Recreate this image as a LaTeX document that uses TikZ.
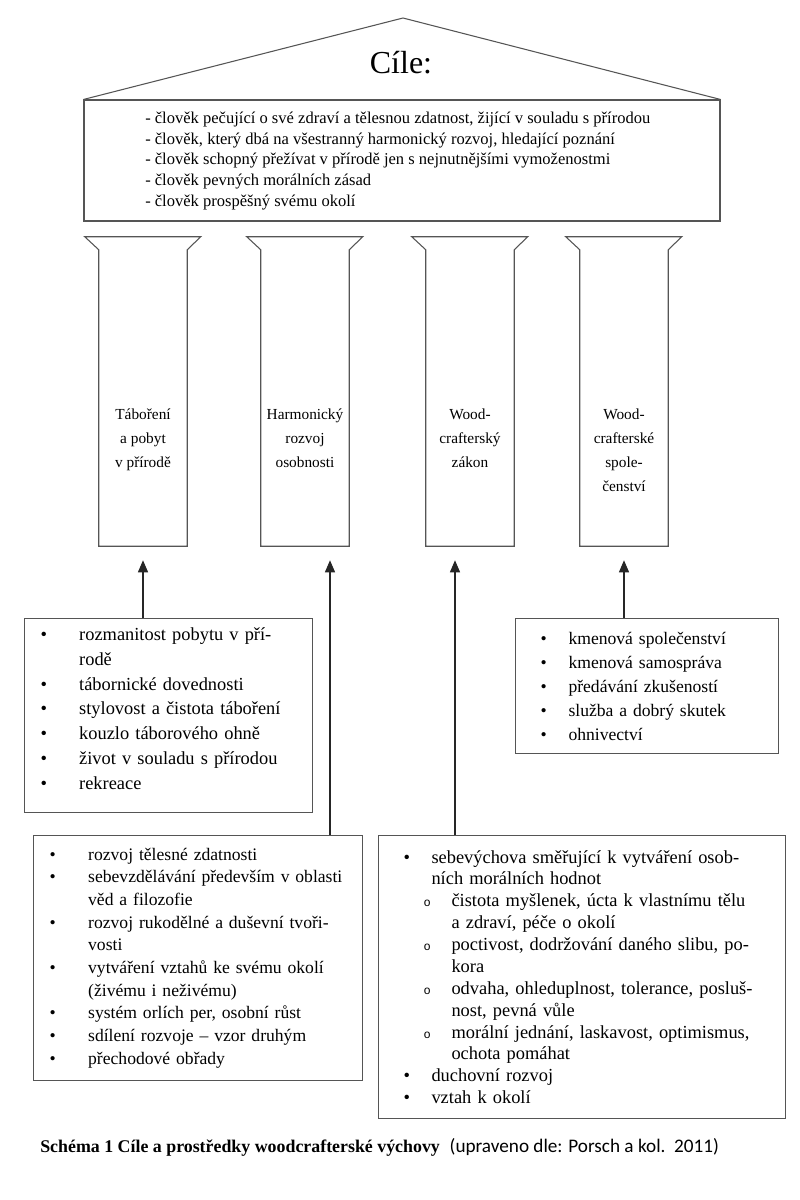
\documentclass[tikz,border=0pt]{standalone}
\usepackage{fontspec}
\setmainfont{Liberation Serif}
\newfontfamily\capfont{Carlito}
\newfontfamily\subfont{Liberation Mono}
\usetikzlibrary{arrows.meta,positioning,calc}
\definecolor{linegray}{HTML}{555555}

% bullet list helpers
\newlength\bpad
\newlength\bgap
\newcommand{\itm}[1]{\hspace*{\bpad}\makebox[\bgap][l]{\textbullet}#1}
\newcommand{\cnt}[1]{\hspace*{\dimexpr\bpad+\bgap\relax}#1}
\newcommand{\sitm}[1]{\hspace*{\dimexpr\bpad+15pt\relax}\makebox[21pt][l]{\subfont\small o}#1}
\newcommand{\scnt}[1]{\hspace*{\dimexpr\bpad+36pt\relax}#1}

\begin{document}
\begin{tikzpicture}[
  x=0.75pt, y=-0.75pt,
  line/.style={draw=linegray, line width=0.8pt},
  pillar/.style={minimum width=66pt, minimum height=222pt, inner sep=0pt},
  plabel/.style={align=center, inner sep=0pt, font=\fontsize{11.5}{18}\selectfont,
    execute at begin node=\rule{0pt}{12pt}},
  listbox/.style={line, anchor=north west, inner xsep=0pt, inner ysep=0pt, align=left},
  arrow/.style={-{Triangle[length=9pt,width=7.5pt]}, line width=0.9pt, draw=black!85, shorten >=10.5pt}
]
\useasboundingbox (0,0) rectangle (800,1200);

% roof
\node[line, minimum width=477pt, minimum height=90.75pt, inner sep=0pt] (goal) at (402,160.5) {};
\coordinate (apex) at (403,18);
\draw[line] (goal.north west) -- (apex) -- (goal.north east);
\node[font=\fontsize{24}{24}\selectfont] (title) at (401,63) {Cíle:};
\node[anchor=west, align=left, inner sep=0pt, font=\fontsize{12.4}{15.4}\selectfont] (aims) at (145,161)
  {- člověk pečující o své zdraví a tělesnou zdatnost, žijící v souladu s přírodou\\
   - člověk, který dbá na všestranný harmonický rozvoj, hledající poznání\\
   - člověk schopný přežívat v přírodě jen s nejnutnějšími vymoženostmi\\
   - člověk pevných morálních zásad\\
   - člověk prospěšný svému okolí};

% pillars
\node[pillar] (pil1) at (143,398) {};
\node[pillar] (pil2) at (305,398) {};
\node[pillar] (pil3) at (470,398) {};
\node[pillar] (pil4) at (624,398) {};
\foreach \p in {pil1,pil2,pil3,pil4}
  \draw[line] (\p.north west) -- ++(-14,-13) -- ++(116,0) -- (\p.north east)
    -- (\p.south east) -- (\p.south west) -- cycle;
\node[plabel, below=119.25pt of pil1.north] (lab1) {Táboření\\a pobyt\\v přírodě};
\node[plabel, below=119.25pt of pil2.north] (lab2) {Harmonický\\rozvoj\\osobnosti};
\node[plabel, below=119.25pt of pil3.north] (lab3) {Wood-\\crafterský\\zákon};
\node[plabel, below=119.25pt of pil4.north] (lab4) {Wood-\\crafterské\\spole-\\čenství};

% means
\node[listbox, text width=216pt, minimum height=145.5pt, font=\fontsize{13.8}{18.6}\selectfont] (camp) at (24,618)
  {\setlength\bpad{12pt}\setlength\bgap{29pt}%
   \itm{rozmanitost pobytu v pří-}\\
   \cnt{rodě}\\
   \itm{tábornické dovednosti}\\
   \itm{stylovost a čistota táboření}\\
   \itm{kouzlo táborového ohně}\\
   \itm{život v souladu s přírodou}\\
   \itm{rekreace}\\[-8pt]\mbox{}};
\node[listbox, text width=197.25pt, minimum height=101.25pt, font=\fontsize{13.2}{18}\selectfont] (tribe) at (515,618)
  {\setlength\bpad{18.75pt}\setlength\bgap{21pt}%
   \itm{kmenová společenství}\\
   \itm{kmenová samospráva}\\
   \itm{předávání zkušeností}\\
   \itm{služba a dobrý skutek}\\
   \itm{ohnivectví}};
\node[listbox, text width=246.75pt, minimum height=183.75pt, font=\fontsize{13.2}{17}\selectfont] (growth) at (33,835)
  {\setlength\bpad{12pt}\setlength\bgap{29pt}%
   \itm{rozvoj tělesné zdatnosti}\\
   \itm{sebevzdělávání především v oblasti}\\
   \cnt{věd a filozofie}\\
   \itm{rozvoj rukodělné a duševní tvoři-}\\
   \cnt{vosti}\\
   \itm{vytváření vztahů ke svému okolí}\\
   \cnt{(živému i neživému)}\\
   \itm{systém orlích per, osobní růst}\\
   \itm{sdílení rozvoje – vzor druhým}\\
   \itm{přechodové obřady}};
\node[listbox, text width=305.25pt, minimum height=212.25pt, font=\fontsize{13.8}{16.4}\selectfont] (law) at (378,835)
  {\setlength\bpad{18.75pt}\setlength\bgap{21pt}%
   \itm{sebevýchova směřující k vytváření osob-}\\
   \cnt{ních morálních hodnot}\\
   \sitm{čistota myšlenek, úcta k vlastnímu tělu}\\
   \scnt{a zdraví, péče o okolí}\\
   \sitm{poctivost, dodržování daného slibu, po-}\\
   \scnt{kora}\\
   \sitm{odvaha, ohleduplnost, tolerance, posluš-}\\
   \scnt{nost, pevná vůle}\\
   \sitm{morální jednání, laskavost, optimismus,}\\
   \scnt{ochota pomáhat}\\
   \itm{duchovní rozvoj}\\
   \itm{vztah k okolí}};

% arrows up to the pillars
\coordinate (a2) at (330,0);
\coordinate (a3) at (455,0);
\draw[arrow] (camp.north -| pil1.south) -- (pil1.south);
\draw[arrow] (growth.north -| a2) -- (pil2.south -| a2);
\draw[arrow] (law.north -| a3) -- (pil3.south -| a3);
\draw[arrow] (tribe.north -| pil4.south) -- (pil4.south);

% caption
\node[anchor=base west, inner sep=0pt, font=\fontsize{13.4}{15}\selectfont] (caption) at (40,1152)
  {\textbf{Schéma 1 Cíle a prostředky woodcrafterské výchovy}\hspace{4pt} {\capfont\fontsize{14.4}{15}\selectfont (upraveno dle: Porsch a kol.\ \ 2011)}};
\end{tikzpicture}
\end{document}
